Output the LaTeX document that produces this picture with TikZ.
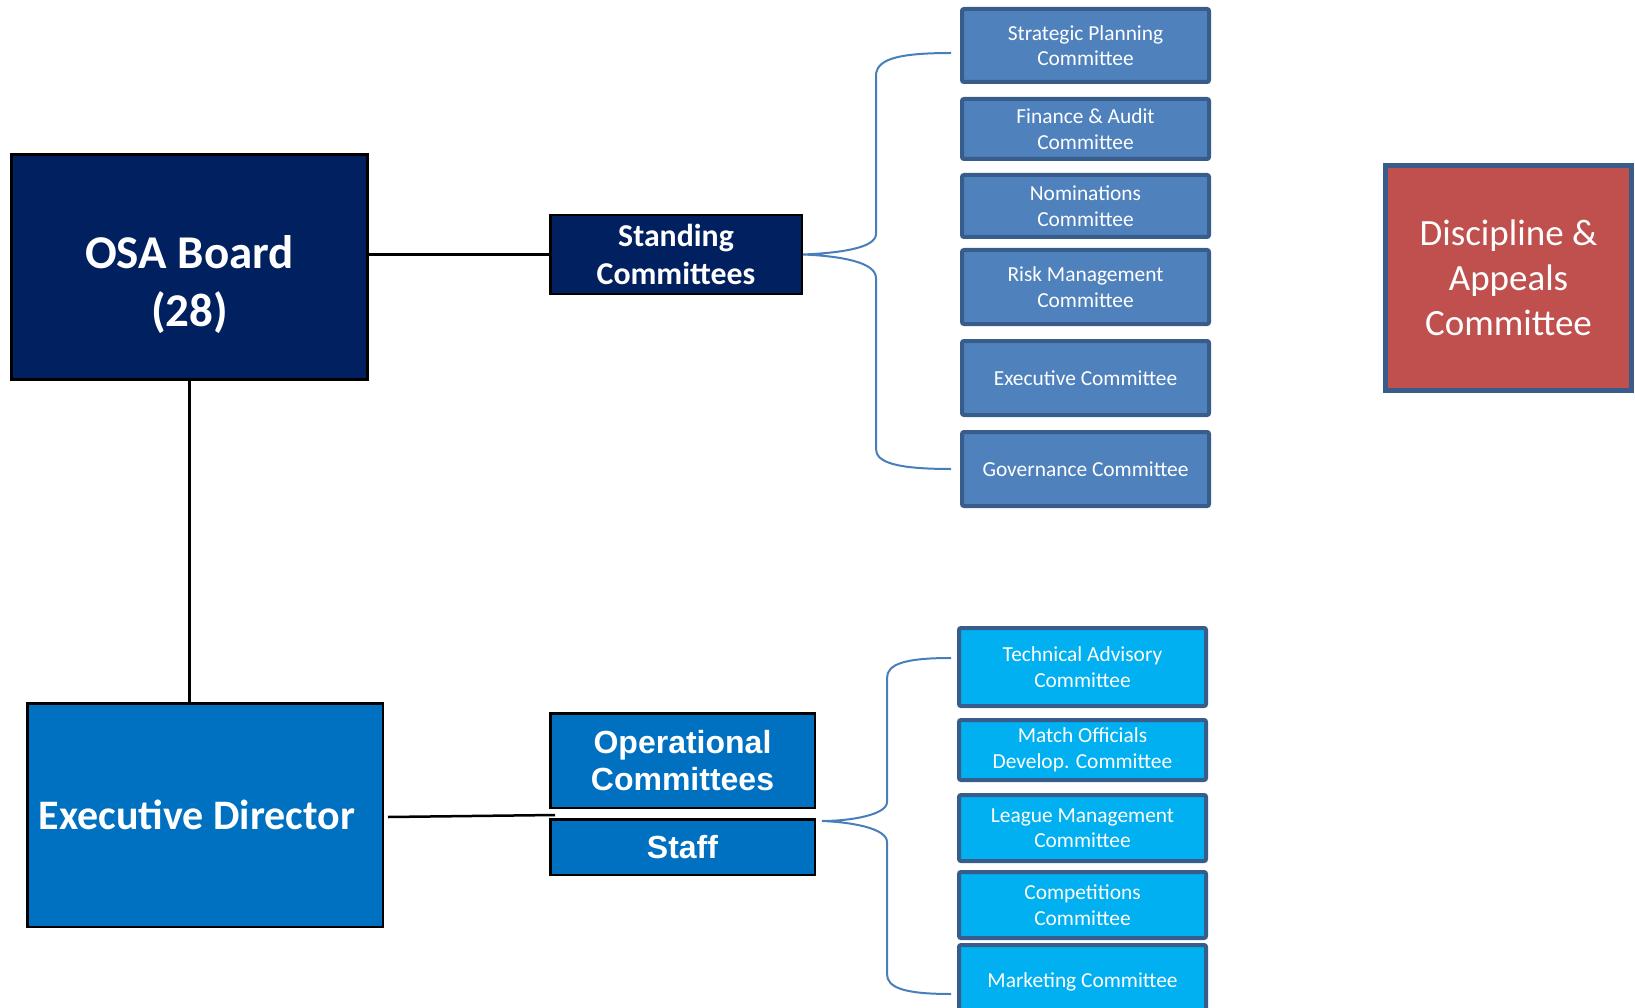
\documentclass[tikz,border=0pt]{standalone}
\usepackage{fontspec}
\setmainfont{Carlito}
\newfontfamily\arialfont{Liberation Sans}
\definecolor{navy}{HTML}{002060}
\definecolor{edblue}{HTML}{0070C0}
\definecolor{stdfill}{HTML}{4F81BD}
\definecolor{opfill}{HTML}{00B0F0}
\definecolor{rimblue}{HTML}{385D8A}
\definecolor{redfill}{HTML}{C0504D}
\definecolor{bracecol}{HTML}{4A7EBB}
\begin{document}
\begin{tikzpicture}[x=1pt,y=-1pt, %% one unit = one pixel, y going down
    bigbox/.style={draw=black,line width=2.5pt,inner sep=0pt,text=white,align=center},
    subbox/.style={draw=rimblue,line width=4pt,rounded corners=2pt,inner sep=0pt,
      text=white,align=center,minimum width=247pt,font=\fontsize{21.4}{25.5}\selectfont},
    link/.style={draw=black,line width=2.5pt},
    brace/.style={draw=bracecol,line width=2pt}]
    \useasboundingbox (0,0) rectangle (1635,1008);%

    %% left column
    \node[bigbox,fill=navy,minimum width=356pt,minimum height=225pt] (board) at (189.5,267) {};%
    \node[text=white,align=center,font=\fontsize{47}{58}\selectfont\bfseries] (boardname)
      at ([yshift=-18pt]board.center) {OSA Board\\(28)};%
    \node[bigbox,fill=edblue,minimum width=355.5pt,minimum height=223.5pt,
      font=\fontsize{42}{50}\selectfont\bfseries] (ed) at (205,815) {Executive Director\hspace*{16pt}};%

    %% middle column
    \node[bigbox,fill=navy,minimum width=251.5pt,minimum height=78.5pt,
      font=\fontsize{31.8}{38.5}\selectfont\bfseries] (standing) at (676,254.5) {Standing\\Committees};%
    \node[bigbox,fill=edblue,minimum width=264.5pt,minimum height=94.5pt,
      font=\arialfont\fontsize{32}{37.5}\selectfont\bfseries] (ops) at (682.5,760.5) {Operational\\Committees};%
    \node[bigbox,fill=edblue,minimum width=264.5pt,minimum height=55.5pt,
      font=\arialfont\fontsize{32}{37.5}\selectfont\bfseries] (staff) at (682.5,847) {Staff};%

    %% committees
    \foreach \nm/\cy/\hh/\lbl in {sp/45.5/73/Strategic Planning\\Committee,
        fa/129/60/Finance \& Audit\\Committee, nom/206/62/Nominations\\Committee,
        risk/287/74/Risk Management\\Committee, exec/378/74/Executive Committee,
        gov/469/74/Governance Committee}
      \node[subbox,fill=stdfill,minimum height=\hh] (\nm) at (1085.5,\cy) {\lbl};%
    \foreach \nm/\cy/\hh/\lbl in {ta/667/78/Technical Advisory\\Committee,
        mo/750/60/Match Officials\\Develop. Committee, lm/828/66/League Management\\Committee,
        comp/905/66/Competitions\\Committee, mkt/982/74/Marketing Committee}
      \node[subbox,fill=opfill,minimum height=\hh] (\nm) at (1082.5,\cy) {\lbl};%

    \node[bigbox,draw=rimblue,line width=5pt,fill=redfill,minimum width=246pt,minimum height=225pt,
      font=\fontsize{37}{45}\selectfont] (discipline) at (1508.5,278) {Discipline \&\\Appeals\\Committee};%

    %% links
    \draw[link] (board.east |- standing.west) -- (standing.west);%
    \draw[link] (board.south) -- (board.south |- ed.north);%
    \draw[link] ([xshift=4pt,yshift=-2pt]ed.east) -- ([xshift=6pt,yshift=3pt]staff.north west);%

    %% braces
    \coordinate (stdtop) at (951,53);%
    \coordinate (stdbot) at (951,469);%
    \draw[brace] (stdtop) .. controls (895,53) and (876,60) .. (876,76) -- (876,234)
      .. controls (876,248) and (840,253) .. (standing.east)
      .. controls (840,256) and (876,262) .. (876,278) -- (876,449)
      .. controls (876,462) and (895,469) .. (stdbot);%
    \coordinate (optop) at (951,658);%
    \coordinate (optip) at (822,821);%
    \coordinate (opbot) at (951,994);%
    \draw[brace] (optop) .. controls (905,658) and (887,664) .. (887,678) -- (887,802)
      .. controls (887,815) and (850,821) .. (optip)
      .. controls (850,822) and (887,828) .. (887,842) -- (887,974)
      .. controls (887,988) and (905,994) .. (opbot);%
\end{tikzpicture}
\end{document}
